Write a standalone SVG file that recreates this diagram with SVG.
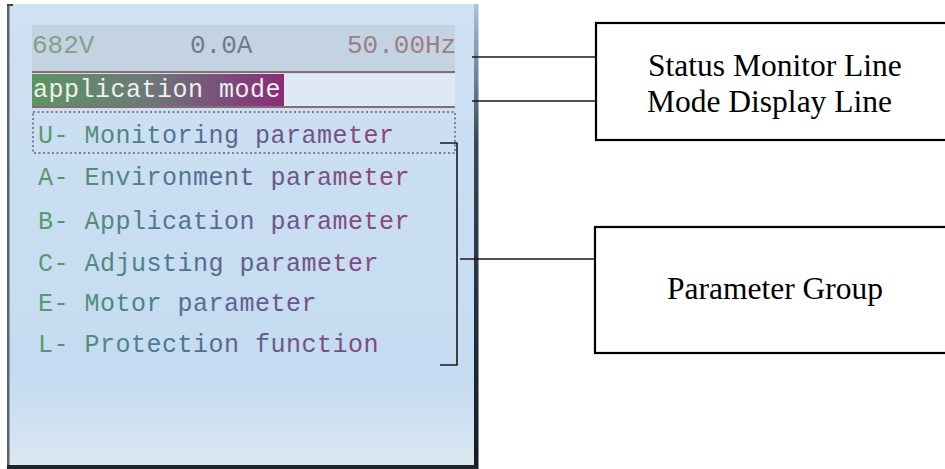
<svg xmlns="http://www.w3.org/2000/svg" width="945" height="469" viewBox="0 0 945 469">
  <defs>
    <style>
      .lcd { font-family: "Liberation Mono", "DejaVu Sans Mono", monospace; font-size: 25px; letter-spacing: 0.5px; }
      .stat { font-family: "Liberation Mono", "DejaVu Sans Mono", monospace; font-size: 26px; letter-spacing: 0px; }
      .label { font-family: "Liberation Serif", "Times New Roman", serif; font-size: 31.5px; fill: #000; }
      .box { fill: #fff; stroke: #000; stroke-width: 2.2; }
      .wire { stroke: #1a1a1a; stroke-width: 1.6; fill: none; }
      .rule { stroke: #8a6b70; stroke-width: 1.8; }
    </style>
    <!-- background of the photographed screen -->
    <linearGradient id="screenBg" x1="0" y1="0" x2="0" y2="1">
      <stop offset="0" stop-color="#cfe1f2"/>
      <stop offset="0.8" stop-color="#c4dbf1"/>
      <stop offset="0.93" stop-color="#d3e3f2"/>
      <stop offset="1" stop-color="#dfe8f0"/>
    </linearGradient>
    <linearGradient id="rightRim" x1="0" y1="0" x2="0" y2="1">
      <stop offset="0" stop-color="#a9c4de"/>
      <stop offset="0.3" stop-color="#35475a"/>
      <stop offset="1" stop-color="#141a22"/>
    </linearGradient>
    <!-- title band of the mode line -->
    <linearGradient id="modeBand" x1="32" y1="0" x2="284" y2="0" gradientUnits="userSpaceOnUse">
      <stop offset="0" stop-color="#5e9462"/>
      <stop offset="0.45" stop-color="#6b7a78"/>
      <stop offset="0.75" stop-color="#7a4f7c"/>
      <stop offset="1" stop-color="#8a2c78"/>
    </linearGradient>
    <!-- menu text shades from green to purple across the screen -->
    <linearGradient id="menuInk" x1="38" y1="0" x2="410" y2="0" gradientUnits="userSpaceOnUse">
      <stop offset="0" stop-color="#5a9a6c"/>
      <stop offset="0.35" stop-color="#4b7890"/>
      <stop offset="0.65" stop-color="#68588a"/>
      <stop offset="1" stop-color="#944274"/>
    </linearGradient>
  </defs>

  <rect width="945" height="469" fill="#fff"/>

  <!-- LCD screen photo -->
  <g id="lcd">
    <rect x="7" y="4" width="471" height="466" fill="url(#screenBg)"/>
    <rect x="32" y="25" width="423" height="47" fill="#c3d3e2"/>
    <!-- screen rim -->
    <rect x="7" y="4" width="2.5" height="465" fill="#5a6470"/>
    <rect x="7" y="4" width="6" height="2" fill="#3a424c"/>
    <rect x="474" y="4" width="4.5" height="465" fill="url(#rightRim)"/>
    <rect x="7" y="465" width="471" height="4" fill="#1e242c"/>

    <!-- status monitor line -->
    <text class="stat" x="32" y="53" fill="#84a08a">682V</text>
    <text class="stat" x="190" y="53" fill="#6f7a90">0.0A</text>
    <text class="stat" x="347" y="53" fill="#a07c88">50.00Hz</text>
    <line class="rule" x1="32" y1="72" x2="455" y2="72"/>

    <!-- mode display line -->
    <rect x="32" y="74" width="252" height="32" fill="url(#modeBand)"/>
    <rect x="284" y="74" width="171" height="32" fill="#dfe9f5"/>
    <text class="lcd" x="33" y="97" fill="#eef0ec">application mode</text>
    <line class="rule" x1="32" y1="107" x2="455" y2="107"/>

    <!-- parameter group list -->
    <rect x="33" y="112" width="422" height="41" fill="none" stroke="#7d7f9c" stroke-width="2" stroke-dasharray="2 2.5"/>
    <g class="lcd" fill="url(#menuInk)">
      <text x="38" y="143">U- Monitoring parameter</text>
      <text x="38" y="185">A- Environment parameter</text>
      <text x="38" y="229">B- Application parameter</text>
      <text x="38" y="271">C- Adjusting parameter</text>
      <text x="38" y="311">E- Motor parameter</text>
      <text x="38" y="352">L- Protection function</text>
    </g>
  </g>

  <!-- callout boxes -->
  <g id="status-box">
    <rect class="box" x="596" y="23" width="360" height="117"/>
    <text class="label" x="648" y="76">Status Monitor Line</text>
    <text class="label" x="647" y="112">Mode Display Line</text>
  </g>
  <g id="param-box">
    <rect class="box" x="595" y="227" width="360" height="126"/>
    <text class="label" x="667" y="299">Parameter Group</text>
  </g>

  <!-- connectors -->
  <g id="connectors">
    <line class="wire" x1="472" y1="57" x2="596" y2="57"/>
    <line class="wire" x1="472" y1="101" x2="596" y2="101"/>
    <path class="wire" d="M440 143 H457 V365 H440"/>
    <line class="wire" x1="460" y1="259" x2="595" y2="259"/>
  </g>
</svg>
